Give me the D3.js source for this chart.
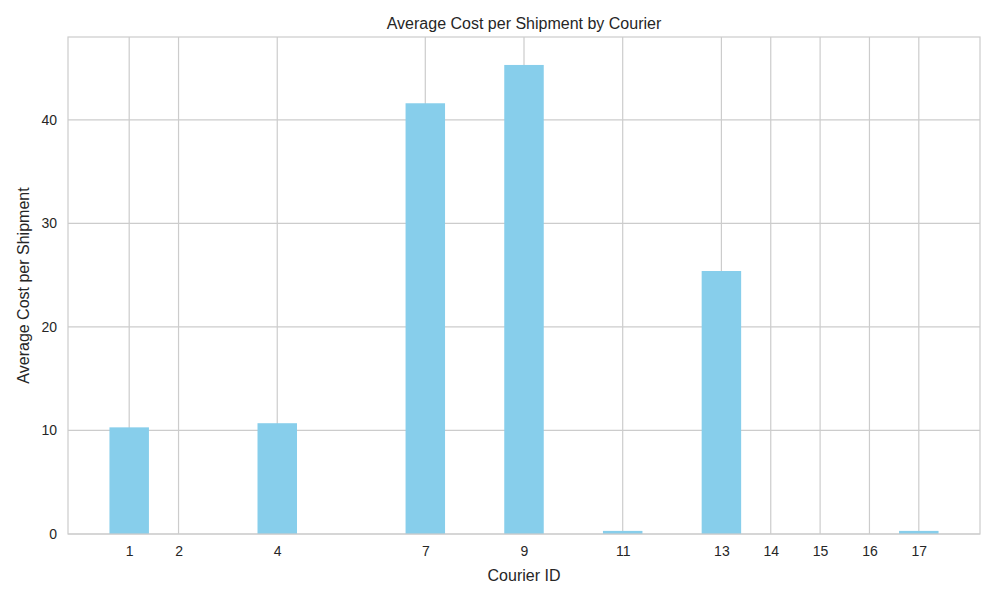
<!DOCTYPE html>
<html>
<head>
<meta charset="utf-8">
<script src="https://cdn.jsdelivr.net/npm/d3@7"></script>
<style>
body{margin:0;background:#fff;}
text{font-family:"Liberation Sans",Arial,sans-serif;fill:#262626;}
</style>
</head>
<body>
<svg id="chart" width="1000" height="600"></svg>
<script>
// courier ids and their average cost per shipment
var courierIds = [1, 2, 4, 7, 9, 11, 13, 14, 15, 16, 17];
var avgCost = [10.3, 0, 10.7, 41.6, 45.3, 0.3, 25.4, 0, 0, 0, 0.3];
var yTicks = [0, 10, 20, 30, 40];

var m = {left:68, right:20, top:37, bottom:66};
var W = 1000, H = 600;
var svg = d3.select("#chart");

var x = d3.scaleLinear().domain([-0.24, 18.24]).range([m.left, W - m.right]);
var y = d3.scaleLinear().domain([0, 48]).range([H - m.bottom, m.top]);

var g = svg.append("g");

// grid
g.selectAll("line.vg").data(courierIds).enter().append("line")
  .attr("x1", function(d){return x(d);}).attr("x2", function(d){return x(d);})
  .attr("y1", m.top).attr("y2", H - m.bottom)
  .attr("stroke", "#cccccc").attr("stroke-width", 1.2);
g.selectAll("line.hg").data(yTicks).enter().append("line")
  .attr("x1", m.left).attr("x2", W - m.right)
  .attr("y1", function(d){return y(d);}).attr("y2", function(d){return y(d);})
  .attr("stroke", "#cccccc").attr("stroke-width", 1.2);

// bars
g.selectAll("rect.bar").data(courierIds).enter().append("rect")
  .attr("x", function(d){return x(d - 0.4);})
  .attr("width", x(0.8) - x(0))
  .attr("y", function(d,i){return y(avgCost[i]);})
  .attr("height", function(d,i){return y(0) - y(avgCost[i]);})
  .attr("fill", "#87ceeb");

// frame
svg.append("rect").attr("x", m.left).attr("y", m.top)
  .attr("width", W - m.left - m.right).attr("height", H - m.top - m.bottom)
  .attr("fill", "none").attr("stroke", "#cccccc").attr("stroke-width", 1.2);

// axes
var xa = svg.append("g").attr("transform", "translate(0," + (H - m.bottom) + ")")
  .call(d3.axisBottom(x).tickValues(courierIds).tickSize(0).tickPadding(12));
var ya = svg.append("g").attr("transform", "translate(" + m.left + ",0)")
  .call(d3.axisLeft(y).tickValues(yTicks).tickSize(0).tickPadding(11));
[xa, ya].forEach(function(a){
  a.select(".domain").remove();
  a.selectAll("text").style("font-size", "14px").style("font-family", "Liberation Sans, Arial, sans-serif").attr("fill", "#262626");
});

svg.append("text").attr("x", (m.left + W - m.right) / 2).attr("y", 29)
  .attr("text-anchor", "middle").style("font-size", "16px").text("Average Cost per Shipment by Courier");
svg.append("text").attr("x", (m.left + W - m.right) / 2).attr("y", 581)
  .attr("text-anchor", "middle").style("font-size", "16px").text("Courier ID");
svg.append("text").attr("transform", "translate(29," + ((m.top + H - m.bottom) / 2) + ") rotate(-90)")
  .attr("text-anchor", "middle").style("font-size", "16px").text("Average Cost per Shipment");
</script>
</body>
</html>
